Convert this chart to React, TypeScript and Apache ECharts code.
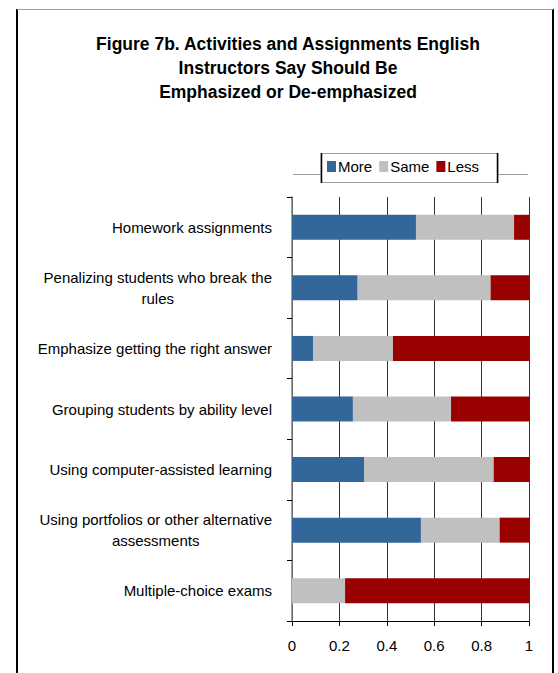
import React, { useEffect, useRef } from "react";
import * as echarts from "echarts";

const categories = [
  "Homework assignments",
  "Penalizing students who break the\nrules",
  "Emphasize getting the right answer",
  "Grouping students by ability level",
  "Using computer-assisted learning",
  "Using portfolios or other alternative\nassessments",
  "Multiple-choice exams",
];
const moreValues = [0.523, 0.277, 0.089, 0.257, 0.304, 0.544, 0];
const sameValues = [0.414, 0.561, 0.337, 0.414, 0.547, 0.332, 0.224];
const lessValues = [0.063, 0.162, 0.574, 0.329, 0.149, 0.124, 0.776];
const seriesNames = ["More", "Same", "Less"];
const seriesColors = ["#336699", "#C0C0C0", "#990000"];
const titleText =
  "Figure 7b. Activities and Assignments English\nInstructors Say Should Be\nEmphasized or De-emphasized";

const FONT = "'Liberation Sans', Arial, sans-serif";

export default function App() {
  const ref = useRef<HTMLDivElement>(null);
  useEffect(() => {
    if (!ref.current) return;
    const chart = echarts.init(ref.current, undefined, { renderer: "svg" });
    const data = [moreValues, sameValues, lessValues];
    chart.setOption({
      animation: false,
      backgroundColor: "#ffffff",
      title: {
        text: titleText,
        left: 288,
        top: 32,
        textAlign: "center",
        padding: 0,
        textStyle: {
          fontFamily: FONT,
          fontWeight: "bold",
          fontSize: 17.5,
          lineHeight: 24,
          color: "#000",
        },
      },
      legend: {
        data: seriesNames,
        left: 327,
        top: 159,
        padding: 0,
        itemGap: 7,
        itemWidth: 9,
        itemHeight: 11,
        icon: "rect",
        z: 10,
        textStyle: { fontFamily: FONT, fontSize: 15, color: "#000", padding: [0, 0, 0, -3] },
      },
      graphic: [
        { type: "line", z: 0, shape: { x1: 17, y1: 9, x2: 17, y2: 673 }, style: { stroke: "#000", lineWidth: 2 } },
        { type: "line", z: 0, shape: { x1: 553, y1: 9, x2: 553, y2: 673 }, style: { stroke: "#000", lineWidth: 2 } },
        { type: "line", z: 0, shape: { x1: 17, y1: 9.5, x2: 553, y2: 9.5 }, style: { stroke: "#a0a0a0", lineWidth: 1 } },
        { type: "line", z: 0, shape: { x1: 293, y1: 174.5, x2: 528, y2: 174.5 }, style: { stroke: "#a0a0a0", lineWidth: 1 } },
        { type: "rect", z: 1, shape: { x: 321, y: 153.5, width: 177, height: 29 }, style: { fill: "#fff", stroke: "#a0a0a0", lineWidth: 1 } },
        { type: "line", z: 2, shape: { x1: 321.5, y1: 153, x2: 321.5, y2: 183 }, style: { stroke: "#000", lineWidth: 1.5 } },
        { type: "line", z: 2, shape: { x1: 497.5, y1: 153, x2: 497.5, y2: 183 }, style: { stroke: "#000", lineWidth: 1.5 } },
      ],
      grid: { left: 292, right: 29, top: 197, bottom: 52, containLabel: false },
      xAxis: {
        type: "value",
        min: 0,
        max: 1,
        interval: 0.2,
        axisLine: { show: true, lineStyle: { color: "#000", width: 1 } },
        axisTick: { show: true, length: 5, lineStyle: { color: "#000" } },
        splitLine: { show: true, lineStyle: { color: "#333", width: 1 } },
        axisLabel: { fontFamily: FONT, fontSize: 15, color: "#000", margin: 17 },
      },
      yAxis: {
        type: "category",
        data: categories,
        inverse: true,
        axisLine: { show: true, lineStyle: { color: "#808080", width: 1.5 } },
        axisTick: { show: true, length: 5, interval: 0, lineStyle: { color: "#000" } },
        axisLabel: {
          interval: 0,
          margin: 20,
          formatter: (v: string) => v.split("\n").map((l) => `{c|${l}}`).join("\n"),
          rich: {
            c: { align: "center", fontFamily: FONT, fontSize: 15, color: "#000", lineHeight: 21 },
          },
        },
      },
      series: seriesNames.map((name, i) => ({
        name,
        type: "bar",
        stack: "total",
        barWidth: 25,
        itemStyle: { color: seriesColors[i] },
        data: data[i],
      })),
    });
    return () => chart.dispose();
  }, []);
  return (
    <div
      ref={ref}
      style={{ position: "absolute", left: 0, top: 0, width: 558, height: 673, background: "#fff" }}
    />
  );
}
